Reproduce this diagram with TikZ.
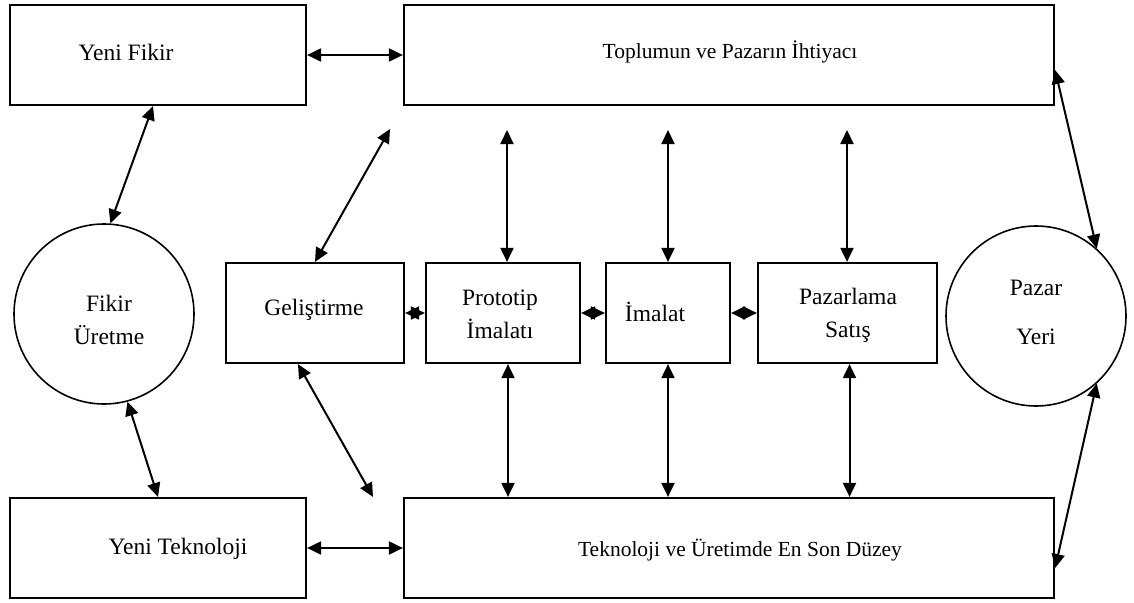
\documentclass[tikz,border=0pt]{standalone}
\usepackage{fontspec}
\setmainfont{Liberation Serif}
\usetikzlibrary{arrows.meta}
\tikzset{
  kutu/.style={draw, line width=2.2pt, minimum height=100pt, inner sep=0pt},
  daire/.style={draw, circle, line width=1.6pt, inner sep=0pt},
  yazi/.style={font=\fontsize{23.5}{33}\selectfont, align=center, inner sep=0pt},
  uzunyazi/.style={yazi, font=\fontsize{21.5}{30}\selectfont},
  ok/.style={{Triangle[length=14pt,width=13pt]}-{Triangle[length=14pt,width=13pt]}, line width=2pt},
}
\begin{document}
\begin{tikzpicture}[x=1pt,y=-1pt]
\useasboundingbox (0,0) rectangle (1134,602);
% kutular
\node[kutu, minimum width=296pt] (yenifikir) at (158,55) {};
\node[kutu, minimum width=650pt] (ihtiyac) at (729,55) {};
\node[kutu, minimum width=296pt] (yeniteknoloji) at (158,548) {};
\node[kutu, minimum width=650pt] (duzey) at (729,548) {};
\node[kutu, minimum width=178pt] (gelistirme) at (315,313) {};
\node[kutu, minimum width=154pt] (prototip) at (503,313) {};
\node[kutu, minimum width=124pt] (imalat) at (668,313) {};
\node[kutu, minimum width=179pt] (pazarlama) at (847.5,313) {};
% daireler
\node[daire, minimum size=180pt] (fikir) at (104,314) {};
\node[daire, minimum size=180pt] (pazar) at (1036,316) {};

% yazilar
\node[yazi] (t-yenifikir) at (126,52) {Yeni Fikir};
\node[uzunyazi] (t-ihtiyac) at (730,52) {Toplumun ve Pazarın İhtiyacı};
\node[yazi] (t-yeniteknoloji) at (178,549) {Yeni Teknoloji};
\node[uzunyazi] (t-duzey) at (740,550) {Teknoloji ve Üretimde En Son Düzey};
\node[yazi] (t-gelistirme) at (314,310) {Geliştirme};
\node[yazi] (t-prototip) at (500,314) {Prototip\\İmalatı};
\node[yazi] (t-imalat) at (655,312) {İmalat};
\node[yazi] (t-pazarlama) at (848,315) {Pazarlama\\Satış};
\node[yazi] (t-fikir) at (109,320) {Fikir\\Üretme};
\node[yazi] (t-pazar) at (1036,312) {Pazar\\[16pt]Yeri};

% serbest uclar
\coordinate (u-gel) at (390,129);
\coordinate (a-gel) at (373,497);
\coordinate (u-pro) at (507,130);
\coordinate (u-ima) at (668,130);
\coordinate (u-paz) at (847,130);

% oklar
\draw[ok] (yenifikir.east) -- (ihtiyac.west);
\draw[ok] (yeniteknoloji.east) -- (duzey.west);
\draw[ok] ([xshift=-5pt]yenifikir.south) -- (fikir.86);
\draw[ok] (fikir.-75) -- (yeniteknoloji.north);
\draw[ok] (gelistirme.north) -- (u-gel);
\draw[ok] ([xshift=-17pt]gelistirme.south) -- (a-gel);
\draw[ok] (u-pro) -- (u-pro |- prototip.north);
\draw[ok] (u-ima) -- (u-ima |- imalat.north);
\draw[ok] (u-paz) -- (u-paz |- pazarlama.north);
\draw[ok] ([xshift=5pt]prototip.south) -- ([xshift=5pt]prototip.south |- duzey.north);
\draw[ok] (imalat.south) -- (imalat.south |- duzey.north);
\draw[ok] ([xshift=2pt]pazarlama.south) -- ([xshift=2pt]pazarlama.south |- duzey.north);
\draw[ok] (gelistirme.east) -- (prototip.west);
\draw[ok] (prototip.east) -- (imalat.west);
\draw[ok] (imalat.east) -- (pazarlama.west);
\draw[ok] ([yshift=-15pt]ihtiyac.east) -- (pazar.48);
\draw[ok] (pazar.-48) -- ([yshift=-20pt]duzey.east);
\end{tikzpicture}
\end{document}
